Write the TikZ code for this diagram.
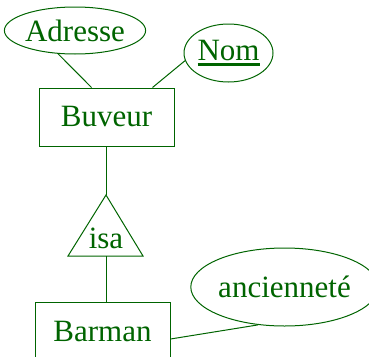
\documentclass[tikz,border=0pt]{standalone}
\usepackage{fontspec}
\setmainfont{Liberation Serif}
\usetikzlibrary{shapes.geometric, positioning, calc}
\definecolor{erGreen}{RGB}{0,100,0}

\newcommand{\keyattr}[1]{\setbox0\hbox{#1}\rlap{\rule[-5pt]{\wd0}{2.5pt}}\box0}

\tikzset{
  entity/.style={draw, rectangle, minimum width=135pt, minimum height=58pt, inner sep=0pt},
  attribute/.style={draw, ellipse, inner sep=0pt},
}

\begin{document}
\begin{tikzpicture}[x=1pt, y=-1pt, line width=1pt, color=erGreen,
    every node/.style={font=\fontsize{31}{36}\selectfont}]
        \useasboundingbox (0,0) rectangle (369,356);
        % entities
        \node [entity] (buveur) at (106.5, 117) {Buveur};
        \node [entity] (barman) at (102.5, 331) {Barman};
        % attributes
        \node [attribute, minimum width=130pt, minimum height=47pt] (adresse) at (75, 30.5) {Adresse};
        \node [attribute, minimum width=89pt, minimum height=58pt] (nom) at (228.5, 53) {\keyattr{Nom}};
        \node [attribute, minimum width=168pt, minimum height=78pt] (ancien) at (284.5, 287) {ancienneté};
        % isa triangle
        \coordinate (isatop) at (106, 195);
        \coordinate (isaleft) at (68, 256);
        \coordinate (isaright) at (143, 256);
        \coordinate (isabase) at (106, 256);
        \draw (isatop) -- (isaleft) -- (isaright) -- cycle;
        \node [anchor=base] (isa) at (106, 248) {isa};
        % links
        \draw (adresse.234) -- ([xshift=53pt]buveur.north west);
        \draw (nom.190) -- ([xshift=-22pt]buveur.north east);
        \draw (buveur.south -| isatop) -- (isatop);
        \draw (isabase) -- (isabase |- barman.north);
        \draw ([yshift=-8pt]barman.east) -- (ancien.235);
    \end{tikzpicture}
\end{document}
